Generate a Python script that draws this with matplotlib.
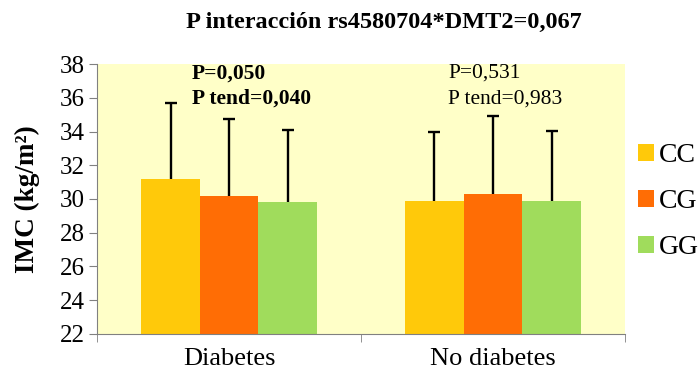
import matplotlib.pyplot as plt
import numpy as np

plt.rcParams['font.family'] = ['Liberation Serif', 'DejaVu Serif']

groups = ["Diabetes", "No diabetes"]
genotypes = ["CC", "CG", "GG"]
means = {
    "CC": [31.2, 29.9],
    "CG": [30.2, 30.3],
    "GG": [29.8, 29.9],
}
upper = {
    "CC": [35.7, 33.95],
    "CG": [34.75, 34.9],
    "GG": [34.1, 34.05],
}
colors = {"CC": "#FFC90A", "CG": "#FF6D05", "GG": "#A0DC5C"}
p_texts = [("P=0,050", "P tend=0,040", "bold"), ("P=0,531", "P tend=0,983", "normal")]

fig = plt.figure(figsize=(6.99, 3.73), dpi=100)
ax = fig.add_axes([0.139, 0.105, 0.755, 0.723])
ax.set_facecolor("#FFFFC8")

x = np.arange(len(groups))
w = 0.222
for i, g in enumerate(genotypes):
    pos = x + (i - 1) * w
    vals = np.array(means[g])
    top = np.array(upper[g])
    ax.bar(pos, vals - 22, bottom=22, width=w, color=colors[g], label=g, zorder=2)
    # upper error bar only
    ax.vlines(pos, vals, top, color="black", lw=1.7, zorder=3)
    ax.scatter(pos, top, marker="_", s=70, color="black", linewidths=1.7, zorder=3)

ax.set_xlim(-0.5, 1.5)
ax.set_ylim(22, 38)
ax.set_yticks(range(22, 39, 2))
ax.set_xticks(x)
ax.set_xticklabels(groups, fontsize=19)
ax.set_xticks([-0.5, 0.5, 1.5], minor=True)
ax.tick_params(axis="x", which="minor", length=6, color="#808080")
ax.tick_params(axis="y", labelsize=18, length=6, color="#808080", direction="out", pad=3)
ax.tick_params(axis="x", which="major", length=0, pad=10)
for s in ["top", "right"]:
    ax.spines[s].set_visible(False)
ax.spines["left"].set_color("#808080")
ax.spines["bottom"].set_color("#808080")

ax.set_ylabel("IMC (kg/m²)", fontsize=19.5, fontweight="bold", labelpad=14)

offsets = [-0.14, -0.17]
for gi, (t1, t2, wt) in enumerate(p_texts):
    xt = x[gi] + offsets[gi]
    ax.text(xt, 37.45, t1, fontsize=15.5, fontweight=wt, ha="left", va="center")
    ax.text(xt, 35.95, t2, fontsize=15.5, fontweight=wt, ha="left", va="center")

fig.text(0.549, 0.94, "P interacción rs4580704*DMT2=0,067", fontsize=17.5,
         fontweight="bold", ha="center", va="center")

ax.legend(loc="center left", bbox_to_anchor=(1.015, 0.49), frameon=False,
          fontsize=20, handlelength=0.55, handleheight=0.55, handletextpad=0.2,
          labelspacing=0.75, borderaxespad=0.0, borderpad=0.2)

fig.savefig("out.png", dpi=100)
